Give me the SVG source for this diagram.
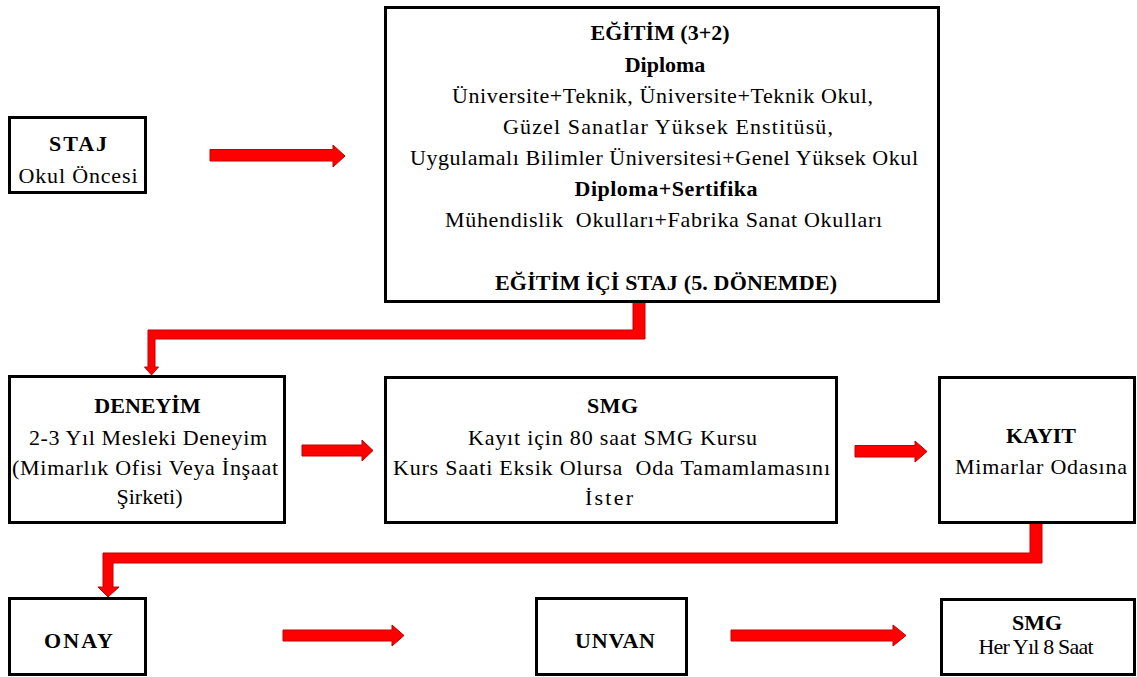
<svg xmlns="http://www.w3.org/2000/svg" width="1137" height="677" viewBox="0 0 1137 677">
  <style>
    .box { fill: #ffffff; stroke: #000000; stroke-width: 3; }
    .t { font-size: 22px; fill: #000000; text-anchor: middle; }
    .b { font-weight: bold; }
    .arrow { fill: #ff0000; stroke: #c00000; stroke-width: 1; stroke-linejoin: miter; }
  </style>
  <rect width="1137" height="677" fill="#ffffff"/>

  <!-- flow connectors -->
  <g id="connectors">
    <polygon class="arrow" points="210,149.5 333,149.5 333,145 345,156 333,167 333,161 210,161"/>
    <polygon class="arrow" points="645,302 645,339 155,339 155,367 158.5,367 151.5,375 144.5,367 148,367 148,330 633,330 633,302"/>
    <polygon class="arrow" points="302,445 362,445 362,440 373,450.5 362,461 362,456 302,456"/>
    <polygon class="arrow" points="855,445.5 915,445.5 915,441 927,451.5 915,462 915,457 855,457"/>
    <polygon class="arrow" points="1042,523 1042,563 113,563 113,587 119,587 108,597 98,587 103,587 103,553 1030,553 1030,523"/>
    <polygon class="arrow" points="283,630 392,630 392,625 404,635.5 392,646 392,641 283,641"/>
    <polygon class="arrow" points="731,630 893,630 893,625 906,635.5 893,646 893,641 731,641"/>
  </g>

  <g font-family="Liberation Serif, Times New Roman, serif">
    <g id="staj">
      <rect class="box" x="9.5" y="117.5" width="136" height="75"/>
      <text class="t b" x="78" y="151" textLength="58">STAJ</text>
      <text class="t" x="78" y="183" textLength="119">Okul Öncesi</text>
    </g>

    <g id="egitim">
      <rect class="box" x="385.5" y="7.5" width="553" height="294"/>
      <text class="t b" x="660" y="40" font-size="20">EĞİTİM (3+2)</text>
      <text class="t b" x="665" y="72">Diploma</text>
      <text class="t" x="662.5" y="103" textLength="421">Üniversite+Teknik, Üniversite+Teknik Okul,</text>
      <text class="t" x="668" y="134" textLength="330">Güzel Sanatlar Yüksek Enstitüsü,</text>
      <text class="t" x="664" y="165" textLength="508">Uygulamalı Bilimler Üniversitesi+Genel Yüksek Okul</text>
      <text class="t b" x="666" y="196" textLength="183">Diploma+Sertifika</text>
      <text class="t" x="663.5" y="227" textLength="437" xml:space="preserve">Mühendislik  Okulları+Fabrika Sanat Okulları</text>
      <text class="t b" x="666" y="290" textLength="342">EĞİTİM İÇİ STAJ (5. DÖNEMDE)</text>
    </g>

    <g id="deneyim">
      <rect class="box" x="9.5" y="376.5" width="275" height="146"/>
      <text class="t b" x="147.5" y="413" font-size="21">DENEYİM</text>
      <text class="t" x="148" y="445" textLength="238">2-3 Yıl Mesleki Deneyim</text>
      <text class="t" x="145" y="475" textLength="266">(Mimarlık Ofisi Veya İnşaat</text>
      <text class="t" x="149.5" y="504">Şirketi)</text>
    </g>

    <g id="smg-kurs">
      <rect class="box" x="385.5" y="377.5" width="451" height="145"/>
      <text class="t b" x="612.5" y="413" textLength="51">SMG</text>
      <text class="t" x="612.5" y="445" textLength="289">Kayıt için 80 saat SMG Kursu</text>
      <text class="t" x="611.5" y="475" textLength="437" xml:space="preserve">Kurs Saati Eksik Olursa  Oda Tamamlamasını</text>
      <text class="t" x="609" y="505" textLength="48">İster</text>
    </g>

    <g id="kayit">
      <rect class="box" x="939.5" y="377.5" width="195" height="145"/>
      <text class="t b" x="1041" y="443" font-size="21">KAYIT</text>
      <text class="t" x="1041" y="474" textLength="172">Mimarlar Odasına</text>
    </g>

    <g id="onay">
      <rect class="box" x="9.5" y="598.5" width="136" height="76"/>
      <text class="t b" x="78.5" y="648" textLength="69">ONAY</text>
    </g>

    <g id="unvan">
      <rect class="box" x="536.5" y="598.5" width="150" height="76"/>
      <text class="t b" x="615" y="648" textLength="80">UNVAN</text>
    </g>

    <g id="smg-yillik">
      <rect class="box" x="941.5" y="599.5" width="193" height="75"/>
      <text class="t b" x="1037" y="630" font-size="17">SMG</text>
      <text class="t" x="1036" y="654" font-size="19" textLength="115">Her Yıl 8 Saat</text>
    </g>
  </g>
</svg>
